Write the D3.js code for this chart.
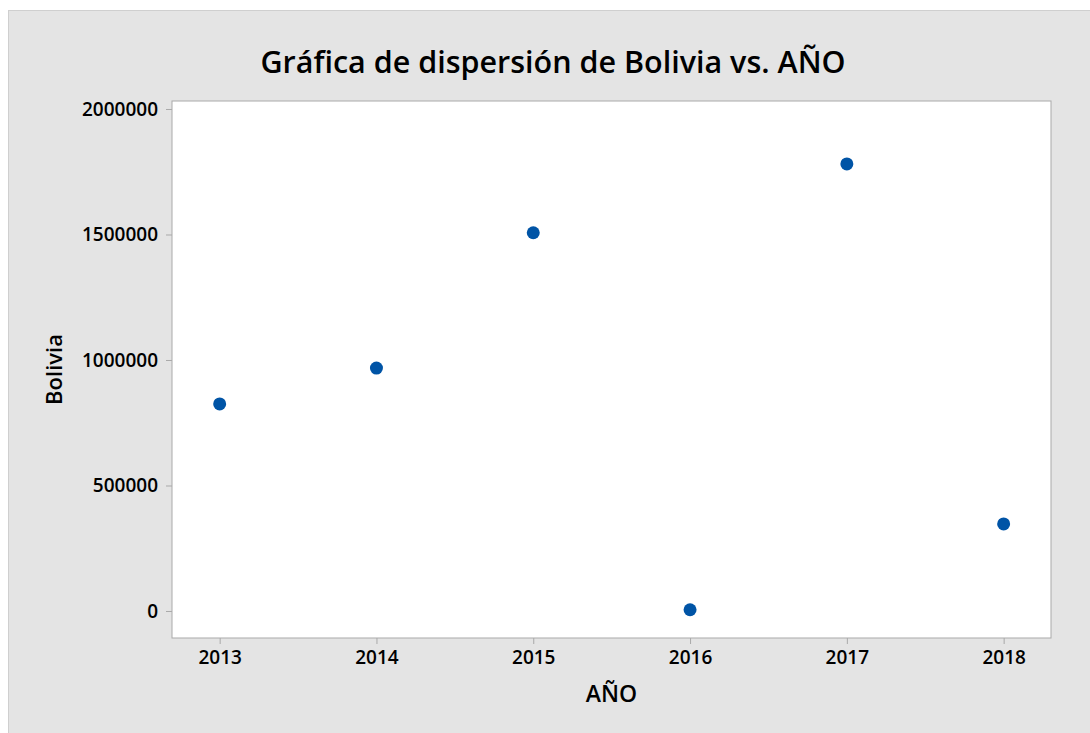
<!DOCTYPE html>
<html>
<head>
<meta charset="utf-8">
<script src="https://cdn.jsdelivr.net/npm/d3@7"></script>
<style>
  body { margin: 0; background: #fff; }
  svg { display: block; font-family: "Open Sans", "Noto Sans", sans-serif; }
</style>
</head>
<body>
<div id="chart"></div>
<script>
// data
const years = [2013, 2014, 2015, 2016, 2017, 2018];
const bolivia = [825000, 968000, 1507000, 5000, 1781000, 347000];
const yTicks = [0, 500000, 1000000, 1500000, 2000000];

const width = 1090, height = 733;
const plot = { left: 172, top: 101, right: 1051, bottom: 638 };

const svg = d3.select("#chart").append("svg")
  .attr("width", width)
  .attr("height", height);

// grey figure background
svg.append("rect")
  .attr("x", 8.5).attr("y", 10.5)
  .attr("width", width).attr("height", height)
  .attr("fill", "#e4e4e4")
  .attr("stroke", "#cfcfcf");

const x = d3.scaleLinear()
  .domain([2012.696, 2018.302])
  .range([plot.left, plot.right]);

const y = d3.scaleLinear()
  .domain([-107570, 2031870])
  .range([plot.bottom, plot.top]);

// white plot area
svg.append("rect")
  .attr("x", plot.left).attr("y", plot.top)
  .attr("width", plot.right - plot.left)
  .attr("height", plot.bottom - plot.top)
  .attr("fill", "#fff")
  .attr("stroke", "#a9a9a9")
  .attr("stroke-width", 1);

const xAxis = svg.append("g")
  .attr("transform", `translate(0,${plot.bottom})`)
  .call(d3.axisBottom(x).tickValues(years).tickFormat(d3.format("d")).tickSize(6).tickPadding(7));

const yAxis = svg.append("g")
  .attr("transform", `translate(${plot.left},0)`)
  .call(d3.axisLeft(y).tickValues(yTicks).tickFormat(d3.format("d")).tickSize(6).tickPadding(8));

for (const ax of [xAxis, yAxis]) {
  ax.select(".domain").remove();
  ax.selectAll(".tick line").attr("stroke", "#a9a9a9");
  ax.selectAll(".tick text")
    .attr("fill", "#000")
    .style("font-family", "'Open Sans', sans-serif")
    .style("font-size", "19px")
    .style("font-weight", 600);
}

// points
svg.append("g")
  .selectAll("circle")
  .data(years.map((yr, i) => ({ yr, v: bolivia[i] })))
  .join("circle")
  .attr("cx", d => x(d.yr))
  .attr("cy", d => y(d.v))
  .attr("r", 6.5)
  .attr("fill", "#0054a6");

// title and axis labels
svg.append("text")
  .attr("x", 553).attr("y", 73)
  .attr("text-anchor", "middle")
  .style("font-size", "30.5px")
  .style("font-weight", 600)
  .text("Gráfica de dispersión de Bolivia vs. AÑO");

svg.append("text")
  .attr("x", (plot.left + plot.right) / 2).attr("y", 702)
  .attr("text-anchor", "middle")
  .style("font-size", "23px")
  .style("font-weight", 600)
  .text("AÑO");

svg.append("text")
  .attr("transform", `translate(62,${(plot.top + plot.bottom) / 2}) rotate(-90)`)
  .attr("text-anchor", "middle")
  .style("font-size", "22px")
  .style("font-weight", 600)
  .text("Bolivia");
</script>
</body>
</html>
